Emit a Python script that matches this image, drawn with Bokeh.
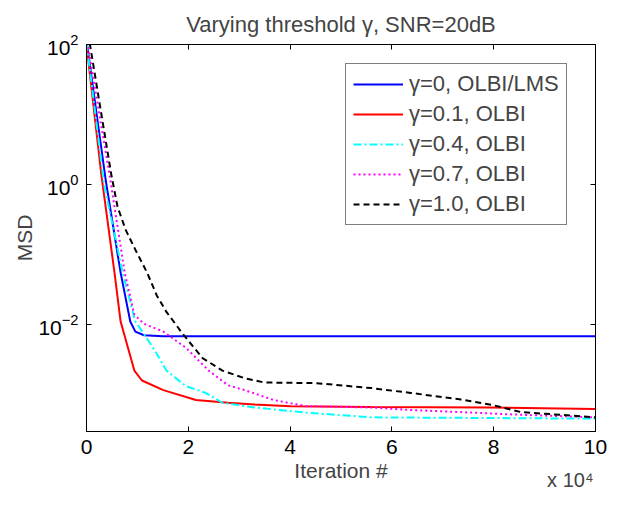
from bokeh.plotting import figure
from bokeh.models import (LinearAxis, LogAxis, FixedTicker, Range1d, Legend, LegendItem, Title)
from bokeh.embed import file_html
from bokeh.resources import INLINE

# ---------------- data (x in units of 1e4 iterations) ----------------
x_blue = [0, 0.38, 0.67, 0.86, 0.96, 1.13, 1.5, 3.0, 5.0, 7.0, 10.0]
y_blue = [115, 1.12, 0.055, 0.011, 7.9e-3, 7.0e-3, 6.8e-3, 6.8e-3, 6.8e-3, 6.8e-3, 6.8e-3]

x_red = [0, 0.29, 0.55, 0.67, 0.94, 1.09, 1.51, 2.15, 2.78, 3.30, 4.01, 5.60, 7.90, 10.0]
y_red = [100, 1.41, 0.055, 0.011, 2.19e-3, 1.58e-3, 1.15e-3, 8.3e-4, 7.6e-4, 7.2e-4,
         6.8e-4, 6.6e-4, 6.5e-4, 6.2e-4]

x_cyan = [0, 0.345, 0.71, 0.96, 1.19, 1.38, 1.57, 1.95, 2.34, 2.67, 3.30, 4.31, 5.60, 7.90, 10.0]
y_cyan = [107, 1.0, 0.055, 0.011, 6.3e-3, 3.8e-3, 2.19e-3, 1.32e-3, 1.05e-3, 7.6e-4,
          6.5e-4, 5.5e-4, 4.7e-4, 4.6e-4, 4.5e-4]

x_mag = [0, 0.45, 0.75, 0.94, 1.13, 1.51, 1.96, 2.40, 2.78, 3.11, 3.68, 4.31, 5.60, 6.35,
         7.33, 8.28, 10.0]
y_mag = [126, 1.41, 0.055, 0.0138, 0.0102, 7.9e-3, 4.6e-3, 2.19e-3, 1.35e-3, 1.15e-3,
         8.3e-4, 6.8e-4, 6.5e-4, 6.0e-4, 5.6e-4, 5.2e-4, 4.7e-4]

x_blk = [0, 0.485, 0.61, 0.77, 0.96, 1.19, 1.38, 1.57, 1.90, 2.28, 2.67, 3.11, 3.49, 4.51,
         5.60, 6.37, 7.33, 7.96, 8.53, 10.0]
y_blk = [200, 1.41, 0.48, 0.224, 0.117, 0.055, 0.026, 0.0151, 7.2e-3, 3.3e-3, 2.19e-3,
         1.70e-3, 1.48e-3, 1.45e-3, 1.23e-3, 1.05e-3, 8.5e-4, 7.1e-4, 5.6e-4, 4.7e-4]

series_labels = ["\u03b3=0, OLBI/LMS", "\u03b3=0.1, OLBI", "\u03b3=0.4, OLBI",
                 "\u03b3=0.7, OLBI", "\u03b3=1.0, OLBI"]

x_ticks = [0, 2, 4, 6, 8, 10]
y_ticks = [1e-2, 1e0, 1e2]
y_tick_keys = ["0.01", "1", "100"]
y_tick_labels = ["10\u207b\u00b2", "10\u2070", "10\u00b2"]
x_min, x_max = 0, 10
y_min, y_max = 10 ** -3.53, 1e2

title_text = "Varying threshold \u03b3, SNR=20dB"
xlabel_text = "Iteration #"
ylabel_text = "MSD"
xscale_text = "x 10\u2074"

FONT = "Liberation Sans"

# ---------------- figure ----------------
p = figure(width=607, height=492, y_axis_type="log",
           x_range=Range1d(x_min, x_max), y_range=Range1d(y_min, y_max),
           output_backend="svg", toolbar_location=None,
           min_border_left=86, min_border_right=12, min_border_top=44, min_border_bottom=61)
p.background_fill_color = "white"
p.border_fill_color = "white"
p.outline_line_color = "black"
p.grid.visible = False

p.title.text = title_text
p.title.align = "center"
p.title.text_font = FONT
p.title.text_font_size = "22px"
p.title.text_font_style = "normal"
p.title.standoff = 16

def style_axis(ax, show_labels):
    ax.major_tick_in = 5
    ax.major_tick_out = 0
    ax.minor_tick_line_color = None
    ax.axis_line_color = "black"
    ax.major_tick_line_color = "black"
    ax.major_label_text_font = FONT
    if show_labels:
        ax.major_label_text_color = "black"
        ax.major_label_text_font_size = "21px"
    else:
        ax.major_label_text_color = None
        ax.major_label_text_font_size = "1px"
        ax.major_label_standoff = 0

xa = p.xaxis[0]
xa.ticker = FixedTicker(ticks=x_ticks)
style_axis(xa, True)
xa.major_label_standoff = 8
xa.axis_label = xlabel_text
xa.axis_label_text_font = FONT
xa.axis_label_text_font_size = "21px"
xa.axis_label_text_font_style = "normal"
xa.axis_label_standoff = 2

ya = p.yaxis[0]
ya.ticker = FixedTicker(ticks=y_ticks)
style_axis(ya, True)
ya.major_label_standoff = 8
ya.major_label_overrides = dict(zip(y_tick_keys, y_tick_labels))

top_ax = LinearAxis(ticker=FixedTicker(ticks=x_ticks))
style_axis(top_ax, False)
p.add_layout(top_ax, "above")
right_ax = LogAxis(ticker=FixedTicker(ticks=y_ticks))
style_axis(right_ax, False)
p.add_layout(right_ax, "right")

p.add_layout(Title(text=ylabel_text, align="center", text_font=FONT,
                   text_font_size="21px", text_font_style="normal", standoff=0), "left")
p.add_layout(Title(text=xscale_text, align="right", vertical_align="top", text_font=FONT,
                   offset=2, text_font_size="20px", text_font_style="normal",
                   standoff=-31), "below")

# ---------------- lines ----------------
r_blue = p.line(x_blue, y_blue, line_color="#0000FF", line_width=2)
r_red = p.line(x_red, y_red, line_color="#FF0000", line_width=2)
r_cyan = p.line(x_cyan, y_cyan, line_color="#00FFFF", line_width=2, line_dash="8 3 2 3")
r_mag = p.line(x_mag, y_mag, line_color="#FF00FF", line_width=2, line_dash="2 3")
r_blk = p.line(x_blk, y_blk, line_color="black", line_width=2, line_dash="6 4")

legend = Legend(items=[LegendItem(label=l, renderers=[r]) for l, r in
                       zip(series_labels, [r_blue, r_red, r_cyan, r_mag, r_blk])],
                location=(259, 206))
legend.label_text_font = FONT
legend.label_text_font_size = "22px"
legend.glyph_width = 50
legend.glyph_height = 24
legend.label_height = 24
legend.label_standoff = 6
legend.spacing = 4
legend.padding = 7
legend.margin = 0
legend.border_line_color = "black"
legend.border_line_width = 1
legend.background_fill_alpha = 1
p.add_layout(legend, "center")

open("out.html", "w").write(file_html(p, INLINE))
